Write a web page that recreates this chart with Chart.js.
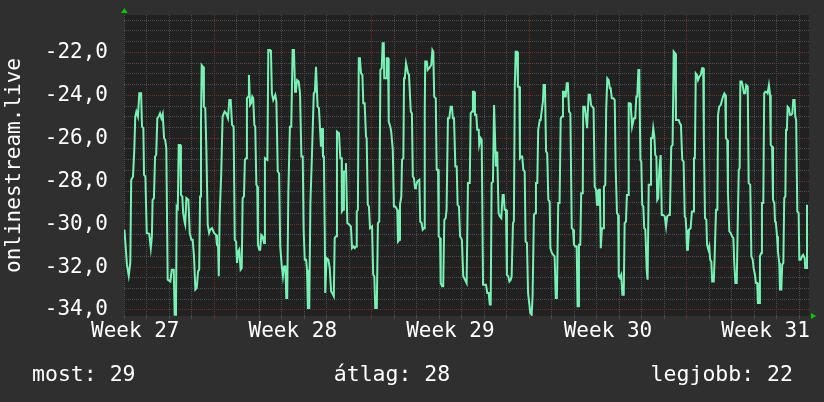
<!DOCTYPE html>
<html>
<head>
<meta charset="utf-8">
<script src="https://cdn.jsdelivr.net/npm/chart.js@4.4.1/dist/chart.umd.min.js"></script>
<style>
  html, body { margin: 0; padding: 0; background: #2f2f2f; }
  #wrap { width: 824px; height: 402px; }
</style>
</head>
<body>
<div id="wrap"><canvas id="myChart" width="824" height="402"></canvas></div>
<script>
// time in days since the left edge of the graph
const times = [
  0.02,0.13,0.21,0.28,0.32,0.40,0.46,0.50,0.55,0.62,0.68,0.76,0.80,0.86,0.89,0.95,1.01,1.12,1.19,1.24,1.27,1.33,1.38,1.43,1.48,1.54,1.60,1.66,1.72,1.78,1.83,1.88,1.94,2.06,2.12,2.21,2.25,2.31,2.34,2.39,2.43,2.50,2.53,2.59,2.63,2.70,2.72,2.77,2.86,2.92,2.99,3.05,3.11,3.17,3.23,3.29,3.34,3.38,3.42,3.45,3.51,3.55,3.61,3.66,3.72,3.78,3.83,3.91,4.00,4.09,4.13,4.18,4.21,4.25,4.32,4.38,4.47,4.54,4.62,4.68,4.74,4.80,4.87,4.92,
  4.98,5.02,5.08,5.12,5.18,5.23,5.27,5.33,5.37,5.42,5.46,5.52,5.55,5.60,5.65,5.70,5.74,5.79,5.83,5.88,5.92,5.95,6.01,6.05,6.10,6.16,6.22,6.26,6.37,6.41,6.49,6.53,6.57,6.63,6.72,6.77,6.83,6.89,6.94,7.01,7.06,7.11,7.17,7.21,7.25,7.30,7.37,7.43,7.49,7.55,7.60,7.64,7.69,7.76,7.82,7.88,7.94,7.98,8.03,8.09,8.13,8.17,8.23,8.28,8.35,8.43,8.48,8.53,8.57,8.60,8.66,8.71,8.75,8.80,8.84,8.88,8.92,8.94,9.00,9.08,9.14,9.20,9.25,9.32,9.36,9.42,9.46,9.55,9.61,9.67,9.68,9.73,9.77,9.83,9.86,9.92,10.01,10.08,10.13,
  10.19,10.25,10.31,10.34,10.39,10.43,10.48,10.53,10.59,10.63,10.69,10.75,10.78,10.83,10.88,10.93,11.02,11.07,11.12,11.16,11.23,11.28,11.34,11.39,11.45,11.49,11.54,11.56,11.64,11.67,11.73,11.76,11.83,11.87,11.94,11.99,12.05,12.14,12.17,12.23,12.26,12.32,12.35,12.41,12.44,12.48,12.53,12.57,12.62,12.66,12.74,12.79,12.83,12.88,12.93,12.97,13.03,13.12,13.16,13.22,13.27,13.33,13.36,13.38,13.45,13.49,13.56,13.65,13.70,13.74,13.78,13.85,13.89,13.95,13.98,14.04,14.07,14.13,14.18,14.23,14.29,14.33,14.39,14.45,14.51,14.57,14.61,14.66,14.72,14.78,14.82,14.88,14.93,15.01,15.07,15.15,
  15.22,15.28,15.36,15.40,15.46,15.50,15.55,15.59,15.65,15.69,15.76,15.78,15.85,15.89,15.95,16.08,16.14,16.20,16.25,16.29,16.33,16.39,16.44,16.48,16.52,16.58,16.61,16.64,16.70,16.76,16.82,16.87,16.91,16.97,17.01,17.07,17.12,17.18,17.22,17.28,17.32,17.36,17.40,17.46,17.50,17.56,17.59,17.65,17.69,17.74,17.80,17.84,17.90,17.95,18.00,18.05,18.11,18.15,18.21,18.26,18.30,18.36,18.40,18.47,18.51,18.55,18.61,18.64,18.70,18.75,18.80,18.85,18.91,18.94,19.01,19.07,19.13,19.18,19.23,19.29,19.35,19.40,19.46,19.50,19.55,19.58,19.62,19.67,19.72,19.77,19.83,19.89,19.95,19.99,20.05,20.11,20.15,20.19,
  20.21,20.27,20.31,20.38,20.40,20.47,20.52,20.57,20.61,20.64,20.70,20.75,20.80,20.86,20.91,20.97,21.01,21.06,21.10,21.14,21.18,21.23,21.29,21.32,21.38,21.42,21.47,21.53,21.58,21.62,21.67,21.74,21.80,21.84,21.90,21.95,21.98,22.03,22.09,22.14,22.20,22.24,22.30,22.34,22.39,22.42,22.48,22.52,22.57,22.61,22.65,22.71,22.76,22.80,22.85,22.89,22.94,22.98,23.02,23.07,23.11,23.16,23.22,23.26,23.31,23.37,23.41,23.47,23.51,23.56,23.60,23.65,23.69,23.73,23.78,23.84,23.89,23.96,24.02,24.08,24.13,24.20,24.25,24.31,24.37,24.42,24.48,24.52,24.58,24.64,24.69,24.74,24.80,24.86,24.91,24.95,24.98,25.01,25.05,25.10,25.17,25.23,25.28,
  25.32,25.36,25.40,25.45,25.50,25.56,25.62,25.68,25.73,25.76,25.81,25.87,25.90,25.96,26.00,26.04,26.09,26.13,26.20,26.24,26.30,26.36,26.39,26.44,26.51,26.55,26.61,26.67,26.71,26.74,26.80,26.83,26.89,26.95,27.01,27.07,27.11,27.16,27.22,27.26,27.31,27.35,27.38,27.44,27.48,27.54,27.60,27.64,27.71,27.75,27.82,27.87,27.93,27.97,28.03,28.07,28.13,28.16,28.22,28.25,28.31,28.34,28.40,28.44,28.49,28.53,28.59,28.65,28.70,28.73,28.79,28.83,28.89,28.92,28.96,29.01,29.05,29.11,29.14,29.20,29.24,29.29,29.33,29.38,29.41,29.45,29.48,29.54,29.58,29.64,29.69,29.73,29.79,29.82,29.86,29.91,29.97,30.00,30.06,30.12,30.17,30.24,30.26,30.31,30.34
];
const values = [
  -30.26,-31.89,-32.40,-31.81,-27.94,-27.78,-26.47,-24.99,-24.76,-24.99,-23.91,-23.91,-25.46,-25.53,-27.71,-27.78,-30.41,-30.45,-31.12,-30.57,-28.87,-28.79,-26.85,-26.78,-25.07,-24.99,-24.84,-25.07,-24.87,-26.0,-26.08,-26.47,-32.59,-32.67,-32.12,-32.12,-34.22,-34.22,-29.18,-29.26,-26.31,-26.31,-28.64,-28.71,-29.49,-29.95,-30.03,-28.79,-28.87,-30.41,-30.73,-30.73,-31.5,-33.05,-32.98,-32.2,-32.12,-28.71,-25.30,-22.59,-22.67,-24.53,-24.60,-26.54,-30.03,-30.41,-30.26,-30.19,-30.41,-30.50,-30.96,-31.04,-32.43,-29.57,-27.63,-24.99,-24.76,-24.84,-25.07,-24.22,-24.22,-25.38,-25.46,-30.73,
  -30.81,-31.81,-31.27,-31.19,-32.12,-32.05,-28.79,-28.71,-27.01,-26.93,-24.14,-24.06,-23.05,-24.45,-24.37,-24.06,-24.14,-25.38,-25.46,-28.17,-28.25,-30.96,-31.19,-31.19,-30.50,-30.57,-30.88,-26.93,-27.01,-21.89,-21.89,-22.05,-23.91,-24.22,-23.98,-24.29,-27.55,-27.63,-31.04,-31.97,-32.43,-31.97,-31.97,-33.44,-33.44,-28.56,-25.46,-25.46,-21.89,-21.89,-23.83,-23.75,-23.29,-23.36,-23.91,-26.85,-26.85,-30.26,-31.66,-31.66,-32.12,-33.91,-33.91,-29.02,-26.78,-23.91,-23.83,-22.67,-22.67,-24.53,-24.60,-25.61,-26.39,-25.53,-26.85,-26.85,-30.57,-33.21,-31.58,-31.66,-32.05,-33.13,-33.21,-33.36,-30.65,-30.57,-25.69,-25.77,-26.93,-26.93,-29.41,-29.33,-27.55,-27.55,-27.16,-29.95,-30.03,-30.11,-31.12,
  -31.04,-31.12,-31.04,-29.41,-29.33,-22.28,-22.28,-22.98,-23.05,-24.37,-24.37,-25.92,-26.0,-29.10,-29.18,-30.19,-30.11,-32.36,-32.43,-33.91,-33.91,-29.95,-29.88,-22.82,-22.74,-21.58,-21.58,-23.21,-23.21,-22.28,-22.28,-25.22,-25.46,-25.69,-26.54,-29.18,-29.18,-29.33,-30.81,-30.73,-29.10,-28.71,-27.01,-26.93,-23.21,-23.13,-22.51,-22.51,-22.98,-23.05,-24.76,-24.84,-27.78,-27.86,-28.33,-28.25,-28.02,-27.94,-29.88,-29.95,-30.26,-30.19,-24.84,-22.43,-22.43,-22.82,-22.74,-22.59,-21.89,-21.97,-24.06,-24.14,-27.47,-27.47,-30.57,-30.65,-32.74,-32.90,-32.90,-29.80,-29.72,-29.33,-25.07,-25.07,-24.53,-24.53,-25.07,-25.07,-27.32,-27.32,-29.10,-29.18,-30.57,-30.73,-32.43,-32.59,
  -32.74,-28.09,-28.09,-24.84,-24.76,-23.83,-23.83,-24.91,-24.91,-25.61,-25.61,-26.31,-26.0,-26.08,-32.82,-32.82,-33.21,-33.21,-33.75,-33.75,-28.09,-28.02,-24.45,-24.45,-27.32,-26.62,-26.62,-29.49,-29.64,-29.72,-28.64,-28.64,-29.33,-29.33,-32.36,-32.43,-32.67,-32.59,-32.43,-29.95,-29.88,-23.60,-21.97,-21.97,-23.60,-23.60,-26.93,-26.85,-26.85,-27.47,-27.55,-30.81,-30.88,-33.21,-33.67,-34.14,-34.22,-33.36,-29.57,-29.49,-28.09,-28.09,-25.61,-25.15,-25.15,-24.76,-24.29,-23.52,-23.52,-26.62,-26.70,-28.87,-28.95,-31.12,-31.35,-31.43,-31.50,-33.44,-33.44,-29.02,-29.02,-25.07,-24.99,-23.83,-23.83,-24.06,-24.06,-23.44,-23.44,-24.76,-24.84,-30.19,-30.26,-30.96,-31.04,-31.04,-33.83,-33.83,
  -30.96,-30.96,-28.56,-28.56,-24.53,-24.53,-24.99,-25.53,-25.53,-23.98,-23.98,-24.45,-24.53,-24.60,-28.25,-28.40,-29.10,-29.10,-28.40,-28.40,-31.12,-30.19,-30.19,-28.25,-28.17,-24.68,-23.21,-23.29,-23.67,-23.67,-24.14,-24.14,-24.22,-27.32,-29.49,-29.57,-32.43,-32.51,-32.36,-33.29,-33.29,-29.95,-29.88,-28.64,-28.64,-24.37,-24.37,-24.60,-25.46,-25.46,-25.07,-25.07,-24.06,-24.06,-22.82,-22.82,-27.01,-27.09,-29.10,-29.18,-30.19,-30.26,-32.12,-32.59,-28.17,-28.17,-26.0,-26.0,-25.53,-25.92,-26.78,-26.85,-28.87,-28.79,-27.47,-26.78,-29.57,-29.57,-29.64,-30.11,-29.64,-29.57,-29.57,-26.39,-26.31,-21.97,-22.05,-25.15,-25.15,-25.15,-25.30,-25.38,-27.01,-27.09,-29.64,-29.72,-30.26,-31.19,-31.19,-30.26,-30.19,-29.41,-29.41,
  -26.93,-26.93,-22.98,-23.05,-23.29,-23.13,-23.05,-22.74,-22.74,-26.08,-29.72,-29.80,-30.96,-31.19,-31.04,-31.66,-31.74,-32.67,-32.67,-31.50,-29.33,-29.33,-24.91,-24.53,-24.45,-24.29,-24.06,-23.91,-23.98,-26.0,-26.08,-28.56,-30.34,-30.41,-30.57,-30.65,-31.81,-32.74,-32.74,-30.26,-27.47,-27.40,-23.36,-23.36,-23.52,-23.91,-23.91,-23.52,-23.60,-28.09,-28.17,-31.50,-31.66,-32.05,-32.36,-32.74,-32.74,-33.67,-33.67,-31.50,-31.35,-29.02,-29.02,-23.91,-23.83,-23.83,-23.91,-23.52,-23.98,-26.31,-26.39,-28.87,-29.02,-29.88,-29.95,-30.57,-31.27,-31.81,-33.05,-33.05,-31.89,-31.81,-28.79,-28.71,-25.61,-25.53,-24.53,-24.60,-24.91,-24.91,-24.84,-24.22,-24.22,-24.99,-25.15,-29.41,-29.49,-31.66,-31.66,-31.50,-31.43,-31.58,-32.05,-32.05,-29.10
];

const weekLabels = ['Week 27', 'Week 28', 'Week 29', 'Week 30', 'Week 31'];
const weekLabelDays = [0.5, 7.5, 14.5, 21.5, 28.5];
const weekStartDays = [4, 11, 18, 25];
const yLabelValues = [-34, -32, -30, -28, -26, -24, -22];

const legendNames = ['most', 'átlag', 'legjobb'];
const legendValues = [29, 28, 22];

const FONT = '"DejaVu Sans Mono", monospace';
const minorGrid = '#4c4c4c';
const majorGrid = '#6e3030';

const n = Math.min(times.length, values.length);
if (times.length !== values.length) console.log('length mismatch', times.length, values.length);
const points = [];
for (let i = 0; i < n; i++) {
  points.push({x: times[i], y: values[i]});
}

// plot area and arrows plus the summary line under the graph
const decor = {
  id: 'decor',
  beforeDraw(chart) {
    const c = chart.ctx;
    const a = chart.chartArea;
    c.save();
    c.fillStyle = '#2f2f2f';
    c.fillRect(0, 0, chart.width, chart.height);
    c.fillStyle = '#212121';
    c.fillRect(a.left, a.top, a.right - a.left, a.bottom - a.top);
    c.restore();
  },
  afterDraw(chart) {
    const c = chart.ctx;
    const a = chart.chartArea;
    c.save();
    c.fillStyle = '#00cc00';
    c.beginPath();
    c.moveTo(a.left - 3, a.top - 2);
    c.lineTo(a.left + 3.5, a.top - 2);
    c.lineTo(a.left + 0.5, a.top - 7);
    c.closePath();
    c.fill();
    c.beginPath();
    c.moveTo(a.right + 2, a.bottom - 3);
    c.lineTo(a.right + 2, a.bottom + 3);
    c.lineTo(a.right + 7, a.bottom);
    c.closePath();
    c.fill();

    c.fillStyle = '#ffffff';
    c.font = '21.5px ' + FONT;
    c.textBaseline = 'alphabetic';
    c.textAlign = 'left';
    c.fillText(legendNames[0] + ': ' + legendValues[0], 32, 381);
    c.textAlign = 'center';
    c.fillText(legendNames[1] + ': ' + legendValues[1], 392, 381);
    c.textAlign = 'right';
    c.fillText(legendNames[2] + ': ' + legendValues[2], 793, 381);
    c.restore();
  }
};

// keep the plot box where it is in the picture, no extra room for labels
function noPad(scale) {
  scale.paddingTop = 0;
  scale.paddingBottom = 0;
  scale.paddingLeft = 0;
  scale.paddingRight = 0;
}

const ctx = document.getElementById('myChart').getContext('2d');

const myChart = new Chart(ctx, {
  type: 'line',
  data: {
    datasets: [{
      data: points,
      borderColor: '#78f2b4',
      borderWidth: 2,
      pointRadius: 0,
      tension: 0,
      fill: false
    }]
  },
  options: {
    responsive: false,
    animation: false,
    devicePixelRatio: 1,
    layout: {padding: {left: 0, top: 15, right: 15, bottom: 0}},
    plugins: {
      legend: {display: false},
      tooltip: {enabled: false}
    },
    scales: {
      x: {
        type: 'linear',
        min: 0,
        max: 30.43,
        afterBuildTicks: function(scale) {
          const list = [];
          for (let d = 0; d <= 30; d++) list.push(d);
          weekLabelDays.forEach(d => list.push(d));
          list.sort((p, q) => p - q);
          scale.ticks = list.map(v => ({value: v}));
        },
        afterFit: function(scale) {
          scale.height = 86;
          noPad(scale);
        },
        grid: {
          color: function(c) {
            const v = c.tick ? c.tick.value : null;
            if (weekLabelDays.includes(v)) return 'rgba(0,0,0,0)';
            if (weekStartDays.includes(v)) return majorGrid;
            return minorGrid;
          },
          lineWidth: 1,
          drawTicks: true,
          tickLength: 3
        },
        border: {display: false, dash: [1, 1]},
        ticks: {
          autoSkip: false,
          maxRotation: 0,
          minRotation: 0,
          padding: 0,
          color: '#ffffff',
          font: {family: FONT, size: 21},
          callback: function(v) {
            const k = weekLabelDays.indexOf(v);
            return k >= 0 ? weekLabels[k] : '';
          }
        }
      },
      y: {
        min: -34.28,
        max: -20.26,
        afterBuildTicks: function(scale) {
          const list = [];
          for (let i = 0; i <= 27; i++) list.push(-34 + i * 0.5);
          scale.ticks = list.map(v => ({value: v}));
        },
        afterFit: function(scale) {
          scale.width = 124;
          noPad(scale);
        },
        grid: {
          color: function(c) {
            const v = c.tick ? c.tick.value : null;
            return yLabelValues.includes(v) ? majorGrid : minorGrid;
          },
          lineWidth: 1,
          drawTicks: false
        },
        border: {display: false, dash: [1, 1]},
        ticks: {
          autoSkip: false,
          padding: 16,
          color: '#ffffff',
          font: {family: FONT, size: 21},
          callback: function(v) {
            return yLabelValues.includes(v) ? v.toFixed(1).replace('.', ',') : '';
          }
        },
        title: {
          display: true,
          text: 'onlinestream.live',
          color: '#ffffff',
          font: {family: FONT, size: 21},
          padding: {top: 2, bottom: 0}
        }
      }
    }
  },
  plugins: [decor]
});
</script>
</body>
</html>
